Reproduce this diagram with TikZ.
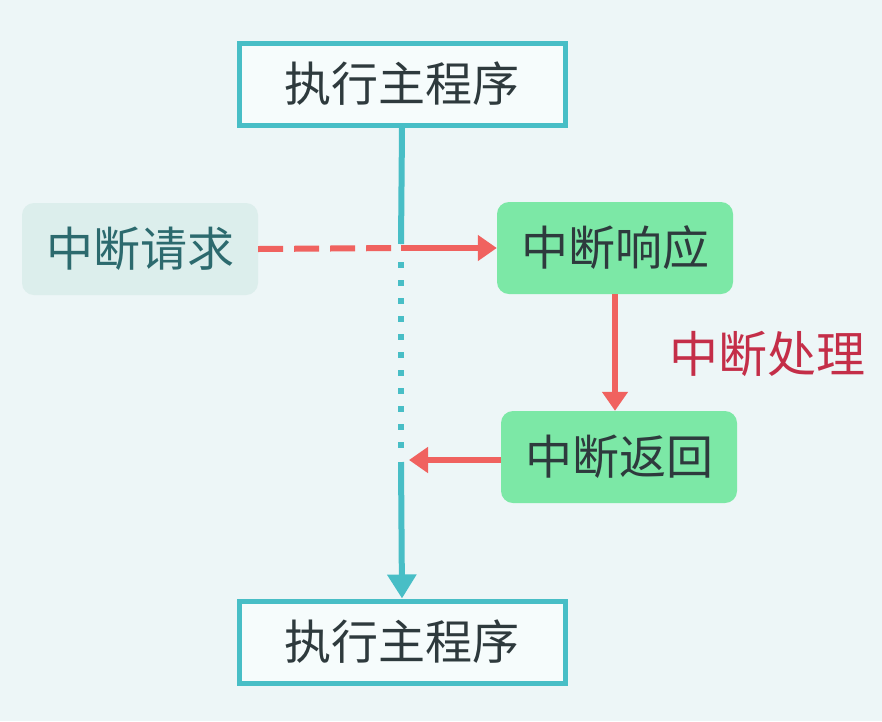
\documentclass[tikz,border=0pt]{standalone}
\usepackage{fontspec}
\setmainfont{Noto Sans CJK SC}
\usetikzlibrary{arrows.meta,positioning}
\definecolor{bgcol}{HTML}{EDF6F7}
\definecolor{tealcol}{HTML}{48BEC6}
\definecolor{boxfill}{HTML}{F6FCFC}
\definecolor{reqfill}{HTML}{DCEEEC}
\definecolor{reqtext}{HTML}{2C6A6E}
\definecolor{greenfill}{HTML}{7CE8A6}
\definecolor{redcol}{HTML}{F0625F}
\definecolor{labelcol}{HTML}{C42E48}
\definecolor{darktext}{HTML}{2E3A3D}
\tikzset{
  mainbox/.style={draw=tealcol, line width=5pt, fill=boxfill, minimum width=326pt,
    minimum height=82pt, inner sep=0pt, text=darktext, font=\fontsize{47}{50}\selectfont},
  softbox/.style={rounded corners=12pt, minimum width=236pt, minimum height=92pt,
    inner sep=0pt, font=\fontsize{47}{50}\selectfont},
  redarrow/.style={redcol, line width=6pt, -{Triangle[length=19pt,width=25pt]}},
  tealline/.style={tealcol, line width=6pt}
}
\begin{document}
\begin{tikzpicture}[x=1pt,y=-1pt]
\fill[bgcol] (0,0) rectangle (882,721);
\useasboundingbox (0,0) rectangle (882,721);

\node[mainbox] (top) at (402,84) {执行主程序};
\node[mainbox] (bot) at (402,642) {执行主程序};
\node[softbox, fill=reqfill, text=reqtext] (req) at (140,249) {中断请求};
\node[softbox, fill=greenfill, text=darktext] (resp) at (615,248) {中断响应};
\node[softbox, fill=greenfill, text=darktext] (retn) at (619,457) {中断返回};
\node[text=labelcol, font=\fontsize{49}{52}\selectfont] (proc) at (767,354) {中断处理};

\coordinate (cross) at (401,248);
\coordinate (dotbeg) at (401,262);
\coordinate (dotend) at (401,452);
\coordinate (back) at (401,460);

% request and handling
\draw[redcol, line width=6pt, dash pattern=on 25pt off 11pt] (req.east) -- (cross);
\draw[redarrow] (cross) -- (resp.west);
\draw[redarrow] (resp.south) -- (retn.north -| resp.south);
\draw[redarrow] (retn.west |- back) -- ([xshift=8pt]back);

% main program line
\draw[tealline] (top.south) -- ([yshift=4pt]cross);
\draw[tealline, dash pattern=on 6pt off 12pt] (dotbeg) -- (dotend);
\draw[tealline, -{Triangle[length=24pt,width=28pt]}] ([yshift=-2pt]back) -- (bot.north);

\end{tikzpicture}
\end{document}
